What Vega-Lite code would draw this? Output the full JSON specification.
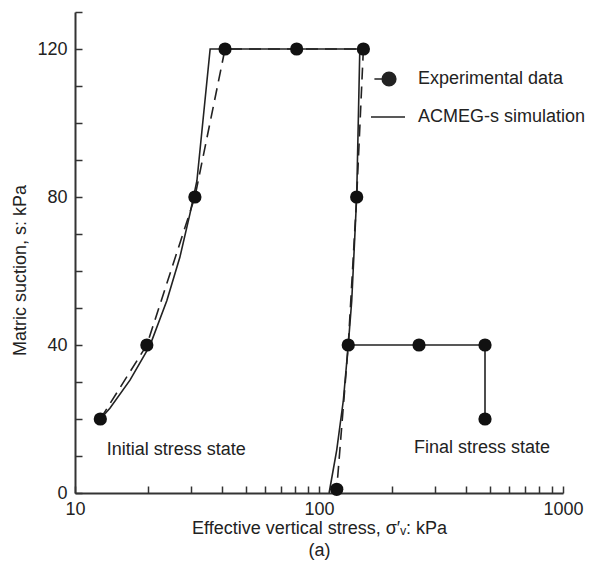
{
  "$schema": "https://vega.github.io/schema/vega-lite/v6.json",
  "width": 488,
  "height": 481,
  "autosize": "none",
  "padding": {"left": 75, "top": 12, "right": 29, "bottom": 69},
  "background": "white",
  "config": {
    "view": {"stroke": null},
    "font": "Liberation Sans",
    "axis": {
      "grid": false,
      "domainColor": "#333",
      "domainWidth": 2,
      "tickColor": "#333",
      "tickWidth": 1.5,
      "tickSize": 7,
      "labelFont": "Liberation Sans",
      "labelFontSize": 18,
      "labelColor": "#222",
      "titleFont": "Liberation Sans",
      "titleFontSize": 18,
      "titleFontWeight": "normal",
      "titleColor": "#222",
      "labelOverlap": false,
      "labelFlush": false
    }
  },
  "resolve": {"axis": {"x": "independent", "y": "independent"}},
  "datasets": {
    "curves": [
      {"series": "ACMEG-s simulation", "segment": "a", "order": 1, "stress": 12.7, "suction": 20},
      {"series": "ACMEG-s simulation", "segment": "a", "order": 2, "stress": 13.9, "suction": 22.9},
      {"series": "ACMEG-s simulation", "segment": "a", "order": 3, "stress": 16.8, "suction": 30.5},
      {"series": "ACMEG-s simulation", "segment": "a", "order": 4, "stress": 20.3, "suction": 39.9},
      {"series": "ACMEG-s simulation", "segment": "a", "order": 5, "stress": 23.8, "suction": 52},
      {"series": "ACMEG-s simulation", "segment": "a", "order": 6, "stress": 26.9, "suction": 63.7},
      {"series": "ACMEG-s simulation", "segment": "a", "order": 7, "stress": 29.6, "suction": 75.5},
      {"series": "ACMEG-s simulation", "segment": "a", "order": 8, "stress": 31.6, "suction": 84.4},
      {"series": "ACMEG-s simulation", "segment": "a", "order": 9, "stress": 35.8, "suction": 120},
      {"series": "ACMEG-s simulation", "segment": "a", "order": 10, "stress": 147, "suction": 120},
      {"series": "ACMEG-s simulation", "segment": "a", "order": 11, "stress": 142.7, "suction": 80},
      {"series": "ACMEG-s simulation", "segment": "a", "order": 12, "stress": 136.2, "suction": 52},
      {"series": "ACMEG-s simulation", "segment": "a", "order": 13, "stress": 131.8, "suction": 40},
      {"series": "ACMEG-s simulation", "segment": "a", "order": 14, "stress": 125.8, "suction": 25},
      {"series": "ACMEG-s simulation", "segment": "a", "order": 15, "stress": 118.2, "suction": 11.6},
      {"series": "ACMEG-s simulation", "segment": "a", "order": 16, "stress": 110, "suction": 0},
      {"series": "ACMEG-s simulation", "segment": "b", "order": 17, "stress": 131.8, "suction": 40},
      {"series": "ACMEG-s simulation", "segment": "b", "order": 18, "stress": 257, "suction": 40},
      {"series": "ACMEG-s simulation", "segment": "b", "order": 19, "stress": 479, "suction": 40},
      {"series": "ACMEG-s simulation", "segment": "b", "order": 20, "stress": 479, "suction": 20},
      {"series": "Experimental data", "segment": "a", "order": 1, "stress": 12.7, "suction": 20},
      {"series": "Experimental data", "segment": "a", "order": 2, "stress": 19.7, "suction": 40},
      {"series": "Experimental data", "segment": "a", "order": 3, "stress": 31, "suction": 80},
      {"series": "Experimental data", "segment": "a", "order": 4, "stress": 41.2, "suction": 120},
      {"series": "Experimental data", "segment": "a", "order": 5, "stress": 81, "suction": 120},
      {"series": "Experimental data", "segment": "a", "order": 6, "stress": 152, "suction": 120},
      {"series": "Experimental data", "segment": "a", "order": 7, "stress": 142.7, "suction": 80},
      {"series": "Experimental data", "segment": "a", "order": 8, "stress": 131.8, "suction": 40},
      {"series": "Experimental data", "segment": "a", "order": 9, "stress": 118.2, "suction": 1},
      {"series": "Experimental data", "segment": "b", "order": 10, "stress": 257, "suction": 40},
      {"series": "Experimental data", "segment": "b", "order": 11, "stress": 479, "suction": 40},
      {"series": "Experimental data", "segment": "b", "order": 12, "stress": 479, "suction": 20}
    ],
    "notes": [
      {"label": "Initial stress state", "stress": 13.5, "suction": 11.6},
      {"label": "Final stress state", "stress": 245, "suction": 12.1}
    ]
  },
  "layer": [
    {
      "data": {"name": "curves"},
      "transform": [{"filter": "datum.series == 'ACMEG-s simulation'"}],
      "mark": {"type": "line", "color": "#222", "strokeWidth": 1.6},
      "encoding": {
        "x": {
          "field": "stress", "type": "quantitative",
          "scale": {"type": "log", "domain": [10, 1000], "nice": false},
          "axis": {
            "orient": "bottom",
            "values": [10, 100, 1000],
            "ticks": false,
            "labelExpr": "format(datum.value, 'd')",
            "labelPadding": 7,
            "title": ["Effective vertical stress, σ′ᵥ: kPa", "(a)"],
            "titleY": 26,
            "titleBaseline": "top",
            "titleLineHeight": 22
          }
        },
        "y": {
          "field": "suction", "type": "quantitative",
          "scale": {"domain": [0, 130], "nice": false},
          "axis": {
            "orient": "left",
            "values": [0, 40, 80, 120],
            "ticks": false,
            "labelPadding": 8,
            "title": "Matric suction, s: kPa",
            "titleX": -55,
            "titleY": 258,
            "titleBaseline": "middle"
          }
        },
        "detail": {"field": "segment"},
        "order": {"field": "order"}
      }
    },
    {
      "data": {"name": "curves"},
      "transform": [{"filter": "datum.series == 'Experimental data' && datum.segment == 'a'"}],
      "mark": {"type": "line", "color": "#222", "strokeWidth": 1.6, "strokeDash": [12, 7]},
      "encoding": {
        "x": {
          "field": "stress", "type": "quantitative",
          "axis": {
            "orient": "top",
            "offset": -481,
            "values": [10, 20, 30, 40, 50, 60, 70, 80, 90, 100, 200, 300, 400, 500, 600, 700, 800, 900, 1000],
            "labels": false,
            "domain": false,
            "title": null
          }
        },
        "y": {
          "field": "suction", "type": "quantitative",
          "axis": {
            "orient": "right",
            "offset": -488,
            "values": [0, 10, 20, 30, 40, 50, 60, 70, 80, 90, 100, 110, 120, 130],
            "labels": false,
            "domain": false,
            "title": null
          }
        },
        "order": {"field": "order"}
      }
    },
    {
      "data": {"name": "curves"},
      "transform": [{"filter": "datum.series == 'Experimental data'"}],
      "mark": {"type": "point", "filled": true, "color": "#111", "size": 175, "opacity": 1},
      "encoding": {
        "x": {"field": "stress", "type": "quantitative", "axis": null},
        "y": {"field": "suction", "type": "quantitative", "axis": null}
      }
    },
    {
      "data": {"name": "curves"},
      "mark": {"type": "point", "filled": false, "color": "#222", "strokeWidth": 1.6, "opacity": 0},
      "encoding": {
        "x": {"field": "stress", "type": "quantitative", "axis": null},
        "y": {"field": "suction", "type": "quantitative", "axis": null},
        "shape": {
          "field": "series", "type": "nominal",
          "scale": {
            "domain": ["Experimental data", "ACMEG-s simulation"],
            "range": [
              "M-0.8,0H-0.34M0.46,0A0.4,0.4 0 1 1 -0.34,0A0.4,0.4 0 1 1 0.46,0ZM0.39,0A0.33,0.33 0 1 1 -0.27,0A0.33,0.33 0 1 1 0.39,0ZM0.32,0A0.26,0.26 0 1 1 -0.2,0A0.26,0.26 0 1 1 0.32,0ZM0.25,0A0.19,0.19 0 1 1 -0.13,0A0.19,0.19 0 1 1 0.25,0ZM0.18,0A0.12,0.12 0 1 1 -0.06,0A0.12,0.12 0 1 1 0.18,0ZM0.11,0A0.05,0.05 0 1 1 0.01,0A0.05,0.05 0 1 1 0.11,0Z",
              "M-1,0H1"
            ]
          },
          "legend": {
            "title": null,
            "orient": "none",
            "legendX": 295,
            "legendY": 49,
            "padding": 0,
            "symbolSize": 1156,
            "symbolStrokeWidth": 1.6,
            "symbolStrokeColor": "#222",
            "symbolOpacity": 1,
            "labelFont": "Liberation Sans",
            "labelFontSize": 18,
            "labelColor": "#222",
            "labelOffset": 12,
            "rowPadding": 9,
            "labelLimit": 300,
            "encode": {
              "symbols": {
                "fill": {"value": "#111"},
                "stroke": {"value": "#222"},
                "strokeWidth": {"value": 1.6},
                "opacity": {"value": 1}
              }
            }
          }
        }
      }
    },
    {
      "data": {"name": "notes"},
      "mark": {"type": "text", "align": "left", "baseline": "middle", "font": "Liberation Sans", "fontSize": 18, "color": "#222"},
      "encoding": {
        "x": {"field": "stress", "type": "quantitative", "axis": null},
        "y": {"field": "suction", "type": "quantitative", "axis": null},
        "text": {"field": "label"}
      }
    }
  ]
}
